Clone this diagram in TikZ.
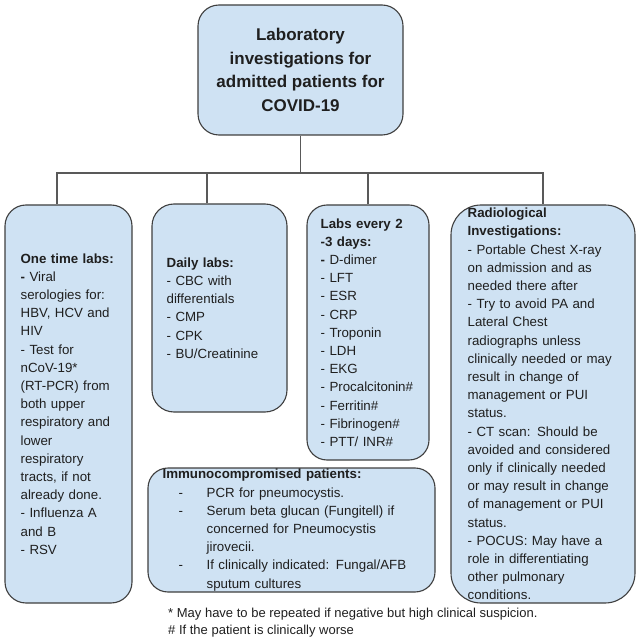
\documentclass[tikz,border=0pt]{standalone}
\usepackage{fontspec}
\setmainfont{Liberation Sans}
\usetikzlibrary{calc}
\definecolor{boxfill}{HTML}{CFE2F3}
\definecolor{boxline}{HTML}{3F3F3F}
\definecolor{connc}{HTML}{595959}
\definecolor{ink}{HTML}{1F1F1F}
\newcommand\immbullet{\makebox[44pt][l]{\hspace{16pt}-}}
\newcommand\immindent{\hspace*{44pt}}
\begin{document}
\begin{tikzpicture}[x=1pt,y=-1pt,
  box/.style={draw=boxline, fill=boxfill, line width=1.1pt, inner sep=0pt},
  connector/.style={draw=connc, line width=1.2pt},
  txt/.style={inner sep=0pt, align=left, text=ink, anchor=west,
    font=\fontsize{13.3}{18.2}\selectfont},
  note/.style={inner sep=0pt, text=ink, anchor=base west,
    font=\fontsize{13}{17}\selectfont},
]
\useasboundingbox (0,0) rectangle (640,639);

% boxes
\node[box, rounded corners=21pt, minimum width=205pt, minimum height=130pt] (top) at (300.5,70) {};
\node[box, rounded corners=21pt, minimum width=127pt, minimum height=398pt] (b1) at (68.5,404) {};
\node[box, rounded corners=22pt, minimum width=135pt, minimum height=208pt] (b2) at (219.5,308) {};
\node[box, rounded corners=20pt, minimum width=122pt, minimum height=255pt] (b3) at (368,332.5) {};
\node[box, rounded corners=30pt, minimum width=184pt, minimum height=398pt] (b4) at (543,404) {};
\node[box, rounded corners=20pt, minimum width=287pt, minimum height=124pt] (b5) at (291.5,530) {};

% connectors
\coordinate (bus) at (300.5,173);
\draw[connector] (top.south) -- (bus);
\draw[connector] ([xshift=-11.5pt]b1.north) |- (bus) -| (b4.north);
\draw[connector] ([xshift=-12.5pt]b2.north) -- ([xshift=-12.5pt]b2.north |- bus);
\draw[connector] (b3.north) -- (b3.north |- bus);

% texts
\node[inner sep=0pt, align=center, text=ink, font=\bfseries\fontsize{17}{23.7}\selectfont] (t0) at (top.center)
  {Laboratory\\investigations for\\admitted patients for\\COVID-19};

\node[txt, text width=110pt] (t1) at ([xshift=16pt]b1.west)
  {\textbf{One time labs:}\\
   \textbf{-} Viral\\
   serologies for:\\
   HBV, HCV and\\
   HIV\\
   - Test for\\
   nCoV-19*\\
   (RT-PCR) from\\
   both upper\\
   respiratory and\\
   lower\\
   respiratory\\
   tracts, if not\\
   already done.\\
   - Influenza A\\
   and B\\
   - RSV};

\node[txt, text width=118pt] (t2) at ([xshift=15pt]b2.west)
  {\textbf{Daily labs:}\\
   - CBC with\\
   differentials\\
   - CMP\\
   - CPK\\
   - BU/Creatinine};

\node[txt, text width=105pt] (t3) at ([xshift=14pt]b3.west)
  {\textbf{Labs every 2}\\
   \textbf{-3 days:}\\
   \textbf{-} D-dimer\\
   - LFT\\
   - ESR\\
   - CRP\\
   - Troponin\\
   - LDH\\
   - EKG\\
   - Procalcitonin\#\\
   - Ferritin\#\\
   - Fibrinogen\#\\
   - PTT/ INR\#};

\node[txt, text width=165pt] (t4) at ([xshift=17pt]b4.west)
  {\textbf{Radiological}\\
   \textbf{Investigations:}\\
   - Portable Chest X-ray\\
   on admission and as\\
   needed there after\\
   - Try to avoid PA and\\
   Lateral Chest\\
   radiographs unless\\
   clinically needed or may\\
   result in change of\\
   management or PUI\\
   status.\\
   - CT scan: Should be\\
   avoided and considered\\
   only if clinically needed\\
   or may result in change\\
   of management or PUI\\
   status.\\
   - POCUS: May have a\\
   role in differentiating\\
   other pulmonary\\
   conditions.};

\node[txt, text width=270pt] (t5) at ([xshift=15pt]b5.west)
  {\textbf{Immunocompromised patients:}\\
   \immbullet PCR for pneumocystis.\\
   \immbullet Serum beta glucan (Fungitell) if\\
   \immindent concerned for Pneumocystis\\
   \immindent jirovecii.\\
   \immbullet If clinically indicated: Fungal/AFB\\
   \immindent sputum cultures};

% footnotes
\node[note] (n1) at (168,617) {* May have to be repeated if negative but high clinical suspicion.};
\node[note] (n2) at (168,634) {\# If the patient is clinically worse};
\end{tikzpicture}
\end{document}
